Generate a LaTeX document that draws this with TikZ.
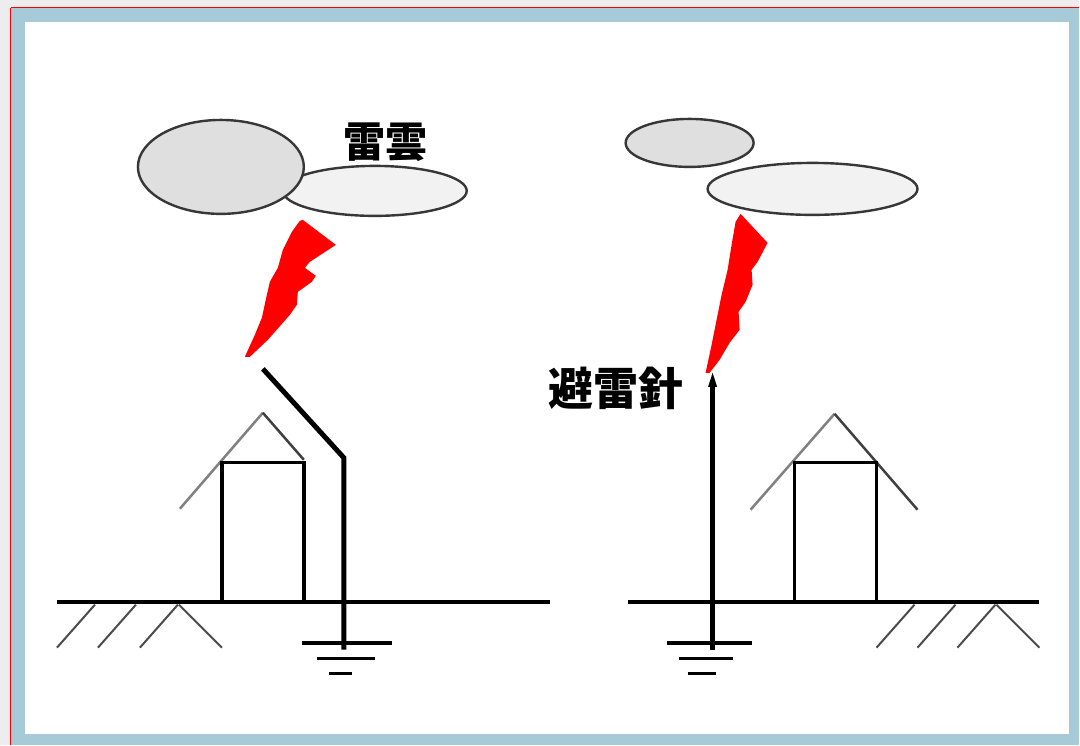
\documentclass[tikz,border=0pt]{standalone}
\usepackage{fontspec}
\newfontfamily\cjk{Noto Sans CJK JP}
\usetikzlibrary{shapes.geometric,calc}
\definecolor{pagegray}{RGB}{237,237,237}
\definecolor{frameblue}{RGB}{166,202,216}
\definecolor{clouddark}{RGB}{223,223,223}
\definecolor{cloudpale}{RGB}{242,242,242}
\definecolor{rimgray}{RGB}{55,55,55}

\tikzset{
  raincloud/.style={ellipse, draw=rimgray, line width=2.4pt, inner sep=0pt},
  earth/.style={line width=4pt, black},
  hatchline/.style={line width=2pt, rimgray!90},
  roofleft/.style={line width=2.5pt, black!50},
  roofright/.style={line width=2.5pt, black!75},
  wall/.style={line width=3.5pt, black},
  rod/.style={line width=5pt, black},
  bolt/.style={fill=red, draw=none},
  label/.style={inner sep=0pt, font=\cjk\bfseries}
}

\begin{document}
\begin{tikzpicture}[x=1pt,y=-1pt]
% frame
\fill[pagegray] (0,0) rectangle (1080,745);
\fill[frameblue] (11,8) rectangle (1080,745);
\draw[red, line width=1.2pt] (10.6,7.6) -- (1080,7.6);
\draw[red, line width=1.2pt] (10.6,7.6) -- (10.6,745);
\fill[white] (25,22) rectangle (1070,734);
\useasboundingbox (0,0) rectangle (1080,745);

% --- left: house struck through a bent rod ---
\node[raincloud, fill=cloudpale, minimum width=184pt, minimum height=50pt] (cloudLb) at (375,191) {};
\node[raincloud, fill=clouddark, minimum width=166pt, minimum height=94pt] (cloudLa) at (221,167) {};
\node[label, font=\cjk\bfseries\fontsize{42}{42}\selectfont] (thunder) at (386,142) {雷雲};

\fill[bolt] (303,220) -- (336,245) -- (310,262) -- (305,268) -- (316,276) -- (312,282)
  -- (298,292) -- (297,305) -- (290,315) -- (268,340) -- (250,357) -- (245,357)
  -- (255,335) -- (262,318) -- (267,295) -- (270,282) -- (278,268) -- (283,250)
  -- (292,232) -- (300,221) -- cycle;

\coordinate (rodLtop) at (263,369);
\coordinate (rodLbend) at (344,458);
\coordinate (rodLfoot) at (344,650);
\draw[rod, line join=miter] (rodLtop) -- (rodLbend) -- (rodLfoot);

\coordinate (roofLpeak) at (263,413);
\draw[roofleft] (180,509) -- (roofLpeak);
\draw[roofright] (roofLpeak) -- (304,460);
\draw[wall] (222,602) |- (304,463) -- (304,602);

\draw[earth] (57,602) -- (550,602);
\foreach \x in {57,98,140}
  \draw[hatchline] (\x,648) -- (\x+38,605);
\draw[hatchline] (179,605) -- (222,648);

\draw[line width=4pt] (302,643) -- (392,643);
\draw[line width=3pt] (317,659) -- (375,659);
\draw[line width=3pt] (329,674) -- (352,674);

% --- right: straight rod beside the house ---
\node[raincloud, fill=clouddark, minimum width=128pt, minimum height=48pt] (cloudRa) at (690,143) {};
\node[raincloud, fill=cloudpale, minimum width=210pt, minimum height=52pt] (cloudRb) at (813,189) {};

\fill[bolt] (741,214) -- (768,243) -- (758,262) -- (752,270) -- (753,285) -- (746,302)
  -- (739,312) -- (740,330) -- (730,343) -- (720,360) -- (710,373) -- (706,373)
  -- (712,345) -- (717,320) -- (722,295) -- (728,270) -- (732,245) -- (736,222) -- cycle;

\coordinate (rodRtop) at (713,373);
\coordinate (rodRfoot) at (713,650);
\fill (rodRtop) -- ++(-4.5,14) -- ++(9,0) -- cycle;
\draw[rod] ($(rodRtop)+(0,12)$) -- (rodRfoot);
\node[label, font=\cjk\bfseries\fontsize{45}{45}\selectfont, anchor=east] (rodname) at (684,389) {避雷針};

\coordinate (roofRpeak) at (835,414);
\draw[roofleft] (751,510) -- (roofRpeak);
\draw[roofright] (roofRpeak) -- (918,510);
\draw[wall] (795,602) |- (877,463) -- (877,602);

\draw[earth] (628,602) -- (1040,602);
\foreach \x in {877,918,958}
  \draw[hatchline] (\x,648) -- (\x+38,605);
\draw[hatchline] (997,605) -- (1040,648);

\draw[line width=4pt] (667,643) -- (752,643);
\draw[line width=3pt] (679,659) -- (733,659);
\draw[line width=3pt] (688,674) -- (716,674);
\end{tikzpicture}
\end{document}
